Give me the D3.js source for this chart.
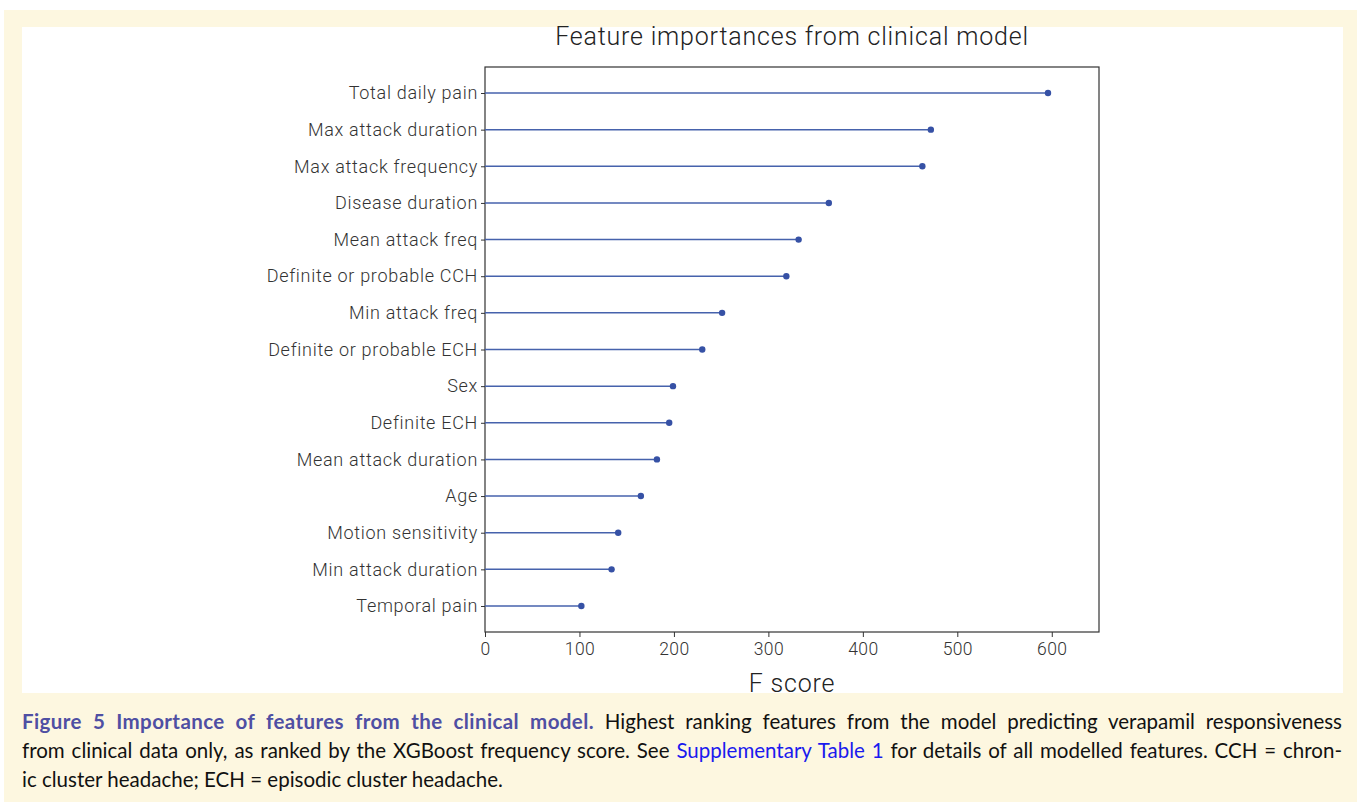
<!DOCTYPE html>
<html>
<head>
<meta charset="utf-8">
<script src="https://cdn.jsdelivr.net/npm/d3@7"></script>
<style>
  body { margin: 0; background: #fff; }
  .root { position: relative; width: 1357px; height: 805px; }
  .axis text { font-family: Roboto, sans-serif; font-weight: 300; fill: #333; }
  .axis path, .axis line { stroke: #333; }
  .caption {
    position: absolute; left: 22px; top: 707px; width: 1320px;
    font-family: Lato, sans-serif; font-size: 20.5px; line-height: 29px;
    color: #111;
  }
  .caption div { white-space: nowrap; text-align: justify; text-align-last: justify; }
  .caption div.last { text-align-last: left; }
  .caption b { color: #4f4fa3; letter-spacing: 0.4px; }
  .caption .link { color: #1a1aee; }
</style>
</head>
<body>
<div class="root"></div>
<script>
const features = ["Total daily pain", "Max attack duration", "Max attack frequency", "Disease duration",
  "Mean attack freq", "Definite or probable CCH", "Min attack freq", "Definite or probable ECH",
  "Sex", "Definite ECH", "Mean attack duration", "Age", "Motion sensitivity",
  "Min attack duration", "Temporal pain"];
const scores = [596, 472, 463, 364, 332, 319, 251, 230, 199, 195, 182, 165, 141, 134, 102];
const xTicks = [0, 100, 200, 300, 400, 500, 600];

const w = 1357;
const h = 805;
const margin = {left: 485, right: 1099, top: 67, bottom: 632};

const svg = d3.select(".root")
              .append("svg")
              .attr("width", w)
              .attr("height", h);

// cream figure background and white chart panel
svg.append("rect").attr("x", 4).attr("y", 10).attr("width", w - 4).attr("height", 792).attr("fill", "#fdf7e0");
svg.append("rect").attr("x", 22).attr("y", 27).attr("width", 1321).attr("height", 666).attr("fill", "#fff");

const dataset = features.map((f, i) => ({name: f, value: scores[i]}));

const xScale = d3.scaleLinear()
                 .domain([0, 650])
                 .range([margin.left, margin.right]);

const yScale = d3.scalePoint()
                 .domain(features)
                 .range([margin.top, margin.bottom])
                 .padding(0.71);

// frame
svg.append("rect")
   .attr("x", margin.left)
   .attr("y", margin.top)
   .attr("width", margin.right - margin.left)
   .attr("height", margin.bottom - margin.top)
   .attr("fill", "none")
   .attr("stroke", "#333")
   .attr("stroke-width", 1.2);

svg.selectAll("line.stem")
   .data(dataset)
   .enter()
   .append("line")
   .attr("class", "stem")
   .attr("x1", xScale(0))
   .attr("x2", (d) => xScale(d.value))
   .attr("y1", (d) => yScale(d.name))
   .attr("y2", (d) => yScale(d.name))
   .attr("stroke", "#4662ac")
   .attr("stroke-width", 1.5);

svg.selectAll("circle")
   .data(dataset)
   .enter()
   .append("circle")
   .attr("cx", (d) => xScale(d.value))
   .attr("cy", (d) => yScale(d.name))
   .attr("r", 3.2)
   .attr("fill", "#3651a5");

// x axis
const xAxis = d3.axisBottom(xScale).tickValues(xTicks).tickSize(5).tickPadding(6);
svg.append("g")
   .attr("class", "axis")
   .attr("transform", "translate(0," + margin.bottom + ")")
   .call(xAxis)
   .call(g => g.select(".domain").remove())
   .selectAll("text")
   .style("font-size", "17.5px")
   .style("letter-spacing", "0.4px");

// y axis
const yAxis = d3.axisLeft(yScale).tickSize(4).tickPadding(3);
svg.append("g")
   .attr("class", "axis")
   .attr("transform", "translate(" + margin.left + ",0)")
   .call(yAxis)
   .call(g => g.select(".domain").remove())
   .selectAll("text")
   .style("font-size", "18px")
   .style("letter-spacing", "0.7px");

svg.append("text")
   .attr("x", (margin.left + margin.right) / 2)
   .attr("y", 45)
   .attr("text-anchor", "middle")
   .style("font-family", "Roboto, sans-serif")
   .style("font-weight", 300)
   .style("font-size", "25px")
   .style("letter-spacing", "0.8px")
   .style("fill", "#222")
   .text("Feature importances from clinical model");

svg.append("text")
   .attr("x", (margin.left + margin.right) / 2)
   .attr("y", 692)
   .attr("text-anchor", "middle")
   .style("font-family", "Roboto, sans-serif")
   .style("font-weight", 300)
   .style("font-size", "25px")
   .style("letter-spacing", "0.8px")
   .style("fill", "#222")
   .text("F score");

const caption = d3.select(".root")
  .append("div")
  .attr("class", "caption");
caption.append("div")
  .html('<b>Figure 5 Importance of features from the clinical model.</b> Highest ranking features from the model predicting verapamil responsiveness');
caption.append("div")
  .html('from clinical data only, as ranked by the XGBoost frequency score. See <span class="link">Supplementary Table 1</span> for details of all modelled features. CCH = chron-');
caption.append("div")
  .attr("class", "last")
  .html('ic cluster headache; ECH = episodic cluster headache.');
</script>
</body>
</html>
